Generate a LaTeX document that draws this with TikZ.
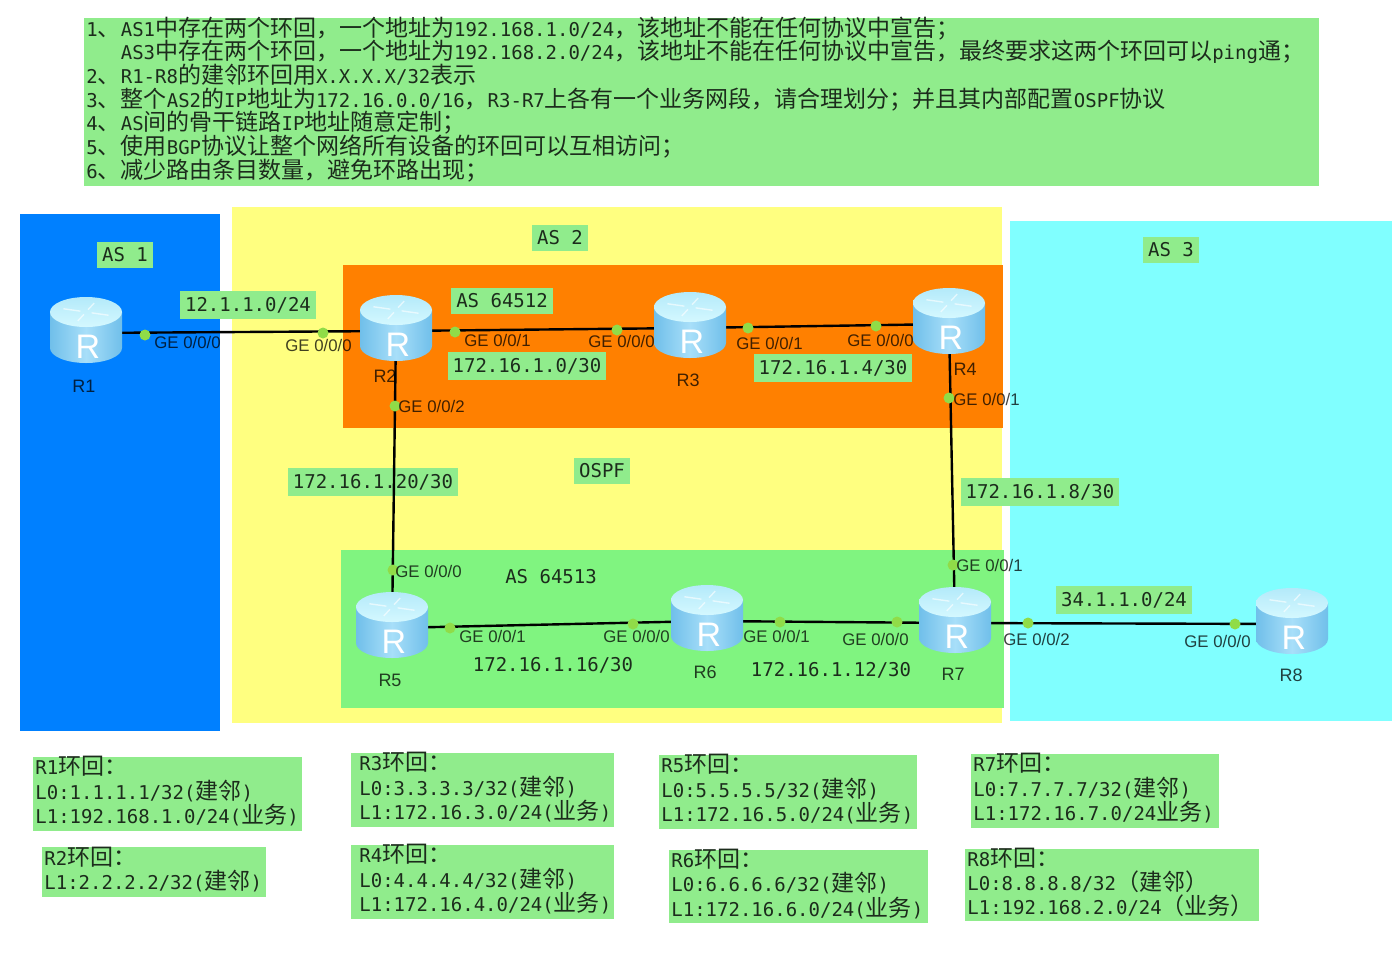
\documentclass[tikz,border=0pt]{standalone}
\usepackage{fontspec}
\setmainfont{Liberation Sans}
\newfontfamily\cjk{Noto Sans CJK SC}
\newfontfamily\mono{DejaVu Sans Mono}
\usetikzlibrary{positioning,shapes}
\lineskiplimit=-20pt
\normallineskiplimit=-20pt

\newcommand{\zh}[1]{{\cjk\fontsize{11.5}{0}\selectfont #1}}

\definecolor{asblue}{HTML}{0080FF}
\definecolor{asyellow}{HTML}{FFFF80}
\definecolor{ascyan}{HTML}{80FFFF}
\definecolor{asorange}{HTML}{FF8000}
\definecolor{asgreen}{HTML}{80F480}
\definecolor{notegreen}{HTML}{90EC8C}
\definecolor{portgreen}{HTML}{90DC48}
\definecolor{textdark}{HTML}{1C2C1C}

\tikzset{
  region/.style={draw=none,inner sep=0pt,anchor=north west},
  netlabel/.style={fill=notegreen,text=textdark,inner xsep=2.5pt,inner ysep=3pt,font=\fontsize{9.5}{11}\selectfont\mono},
  plainlabel/.style={text=textdark,inner sep=0pt,font=\fontsize{9.5}{11}\selectfont\mono},
  notebox/.style={fill=notegreen,text=textdark,anchor=north west,align=left,inner xsep=1pt,inner ysep=-4pt,
    execute at end node={\vspace*{3pt}},font=\fontsize{9.5}{12.2}\selectfont\mono},
  portdot/.style={circle,fill=portgreen,inner sep=0pt,minimum size=5.5pt},
  portlabel/.style={anchor=west,inner sep=0pt,text=black,text opacity=.75,font=\fontsize{8.4}{10}\selectfont},
  routerlabel/.style={inner sep=0pt,text=black,text opacity=.75,font=\fontsize{9}{11}\selectfont},
  router/.style={inner sep=0pt,minimum width=37pt,minimum height=33pt,text=white,font=\fontsize{17}{19}\selectfont},
  link/.style={draw=black,line width=1.2pt},
  routerbody/.pic={
    \path[left color=routerside,right color=routerside,middle color=routermid]
      (-36,-21) -- (-36,15) arc (180:0:36 and 15) -- (36,-21) -- cycle;
    \path[top color=routertop,bottom color=routertopb] (0,-21) ellipse [x radius=36,y radius=15];
    \foreach \a in {20,110,200,290}
      \draw[white,opacity=.6,line width=.7pt] (\a:6 and 2.5) ++(0,-21) -- ++(\a:18 and 7);
  },
}
\definecolor{routerside}{HTML}{70BFEA}
\definecolor{routermid}{HTML}{A8DFF9}
\definecolor{routertop}{HTML}{B4EAFA}
\definecolor{routertopb}{HTML}{D4F8FF}

\begin{document}
\begin{tikzpicture}[x=0.5pt,y=-0.5pt]
    \useasboundingbox (0,0) rectangle (1396,954);

    % regions
    \node[region,fill=asblue,minimum width=100pt,minimum height=258.5pt] (as1) at (20,214) {};
    \node[region,fill=asyellow,minimum width=385pt,minimum height=258pt] (as2) at (232,207) {};
    \node[region,fill=ascyan,minimum width=191pt,minimum height=250pt] (as3) at (1010,221) {};
    \node[region,fill=asorange,minimum width=330pt,minimum height=81.5pt] (as64512) at (343,265) {};
    \node[region,fill=asgreen,minimum width=331.5pt,minimum height=79pt] (as64513) at (341,550) {};

    % task list
    \node[notebox,minimum height=84pt,text width=615.5pt,font=\fontsize{9.5}{11.85}\selectfont\mono] (tasks) at (84,18) {%
      1\zh{、}AS1\zh{中存在两个环回，一个地址为}192.168.1.0/24\zh{，该地址不能在任何协议中宣告；}\\
      \phantom{1\zh{、}}AS3\zh{中存在两个环回，一个地址为}192.168.2.0/24\zh{，该地址不能在任何协议中宣告，最终要求这两个环回可以}ping\zh{通；}\\
      2\zh{、}R1-R8\zh{的建邻环回用}X.X.X.X/32\zh{表示}\\
      3\zh{、整个}AS2\zh{的}IP\zh{地址为}172.16.0.0/16\zh{，}R3-R7\zh{上各有一个业务网段，请合理划分；并且其内部配置}OSPF\zh{协议}\\
      4\zh{、}AS\zh{间的骨干链路}IP\zh{地址随意定制；}\\
      5\zh{、使用}BGP\zh{协议让整个网络所有设备的环回可以互相访问；}\\
      6\zh{、减少路由条目数量，避免环路出现；}};

    % area names
    \node[netlabel] (nameas1) at (125,255) {AS 1};
    \node[netlabel] (nameas2) at (560,238) {AS 2};
    \node[netlabel] (nameas3) at (1171,250) {AS 3};
    \node[netlabel] (nameas64512) at (502,301) {AS 64512};
    \node[netlabel] (nameospf) at (602,471) {OSPF};
    \node[plainlabel] (nameas64513) at (551,577) {AS 64513};

    % networks
    \node[netlabel] (net12) at (248,305) {12.1.1.0/24};
    \node[netlabel] (net0) at (527,366) {172.16.1.0/30};
    \node[netlabel] (net4) at (833,368) {172.16.1.4/30};
    \node[netlabel] (net20) at (373,482) {172.16.1.20/30};
    \node[netlabel] (net8) at (1040,492) {172.16.1.8/30};
    \node[netlabel] (net34) at (1124,600) {34.1.1.0/24};
    \node[plainlabel] (net16) at (553,665) {172.16.1.16/30};
    \node[plainlabel] (net12b) at (831,670) {172.16.1.12/30};

    % routers
    \foreach \n/\x/\y in {1/86/333,2/396/331,3/690/328,4/949/324,5/392/628,6/707/621,7/955/623,8/1292/624}
    \node[inner sep=0pt,minimum size=1pt] (c\n) at (\x,\y) {};

    \foreach \from/\to in {c1/c2,c2/c3,c3/c4,c2/c5,c4/c7,c5/c6,c6/c7,c7/c8}
    \draw[link] (\from)--(\to);

    \foreach \n in {1,...,8} {
      \pic at (c\n) {routerbody};
      \node[router,xshift=1pt] (r\n) at (c\n) {\raisebox{-12.5pt}[0pt][0pt]{R}};
    }

    \node[routerlabel] (rlabel1) at (84,386) {R1};
    \node[routerlabel] (rlabel2) at (385,376) {R2};
    \node[routerlabel] (rlabel3) at (688,380) {R3};
    \node[routerlabel] (rlabel4) at (965,369) {R4};
    \node[routerlabel] (rlabel5) at (390,680) {R5};
    \node[routerlabel] (rlabel6) at (705,672) {R6};
    \node[routerlabel] (rlabel7) at (953,674) {R7};
    \node[routerlabel] (rlabel8) at (1291,675) {R8};

    % ports
    \foreach \n/\x/\y in {1/145/335,2/323/333,3/455/332,4/617/330,5/748/328,6/876/326,7/395/406,8/949/398,
      9/393/570,10/953/565,11/450/628,12/633/624,13/780/622,14/897/622,15/1028/623,16/1235/624}
    \node[portdot] (dot\n) at (\x,\y) {};

    \node[portlabel] (port1) at (154,342) {GE 0/0/0};
    \node[portlabel] (port2) at (285,345) {GE 0/0/0};
    \node[portlabel] (port3) at (464,340) {GE 0/0/1};
    \node[portlabel] (port4) at (588,341) {GE 0/0/0};
    \node[portlabel] (port5) at (736,343) {GE 0/0/1};
    \node[portlabel] (port6) at (847,340) {GE 0/0/0};
    \node[portlabel] (port7) at (398,406) {GE 0/0/2};
    \node[portlabel] (port8) at (953,399) {GE 0/0/1};
    \node[portlabel] (port9) at (395,571) {GE 0/0/0};
    \node[portlabel] (port10) at (956,565) {GE 0/0/1};
    \node[portlabel] (port11) at (459,636) {GE 0/0/1};
    \node[portlabel] (port12) at (603,636) {GE 0/0/0};
    \node[portlabel] (port13) at (743,636) {GE 0/0/1};
    \node[portlabel] (port14) at (842,639) {GE 0/0/0};
    \node[portlabel] (port15) at (1003,639) {GE 0/0/2};
    \node[portlabel] (port16) at (1184,641) {GE 0/0/0};

    % loopbacks
    \node[notebox,minimum height=37pt,text width=132.5pt] (loop1) at (33,757) {%
      R1\zh{环回：}\\L0:1.1.1.1/32(\zh{建邻})\\L1:192.168.1.0/24(\zh{业务})};
    \node[notebox,minimum height=25pt,text width=110pt] (loop2) at (42,847) {%
      R2\zh{环回：}\\L1:2.2.2.2/32(\zh{建邻})};
    \node[notebox,minimum height=37pt,inner xsep=4pt,text width=123.5pt] (loop3) at (351,753) {%
      R3\zh{环回：}\\L0:3.3.3.3/32(\zh{建邻})\\L1:172.16.3.0/24(\zh{业务})};
    \node[notebox,minimum height=37pt,inner xsep=4pt,text width=123.5pt] (loop4) at (351,845) {%
      R4\zh{环回：}\\L0:4.4.4.4/32(\zh{建邻})\\L1:172.16.4.0/24(\zh{业务})};
    \node[notebox,minimum height=37pt,text width=127pt] (loop5) at (659,755) {%
      R5\zh{环回：}\\L0:5.5.5.5/32(\zh{建邻})\\L1:172.16.5.0/24(\zh{业务})};
    \node[notebox,minimum height=36.5pt,text width=127.5pt] (loop6) at (669,850) {%
      R6\zh{环回：}\\L0:6.6.6.6/32(\zh{建邻})\\L1:172.16.6.0/24(\zh{业务})};
    \node[notebox,minimum height=37pt,text width=122pt] (loop7) at (971,754) {%
      R7\zh{环回：}\\L0:7.7.7.7/32(\zh{建邻})\\L1:172.16.7.0/24\zh{业务})};
    \node[notebox,minimum height=36pt,text width=145pt] (loop8) at (965,849) {%
      R8\zh{环回：}\\L0:8.8.8.8/32\zh{（建邻）}\\L1:192.168.2.0/24\zh{（业务）}};
\end{tikzpicture}
\end{document}
